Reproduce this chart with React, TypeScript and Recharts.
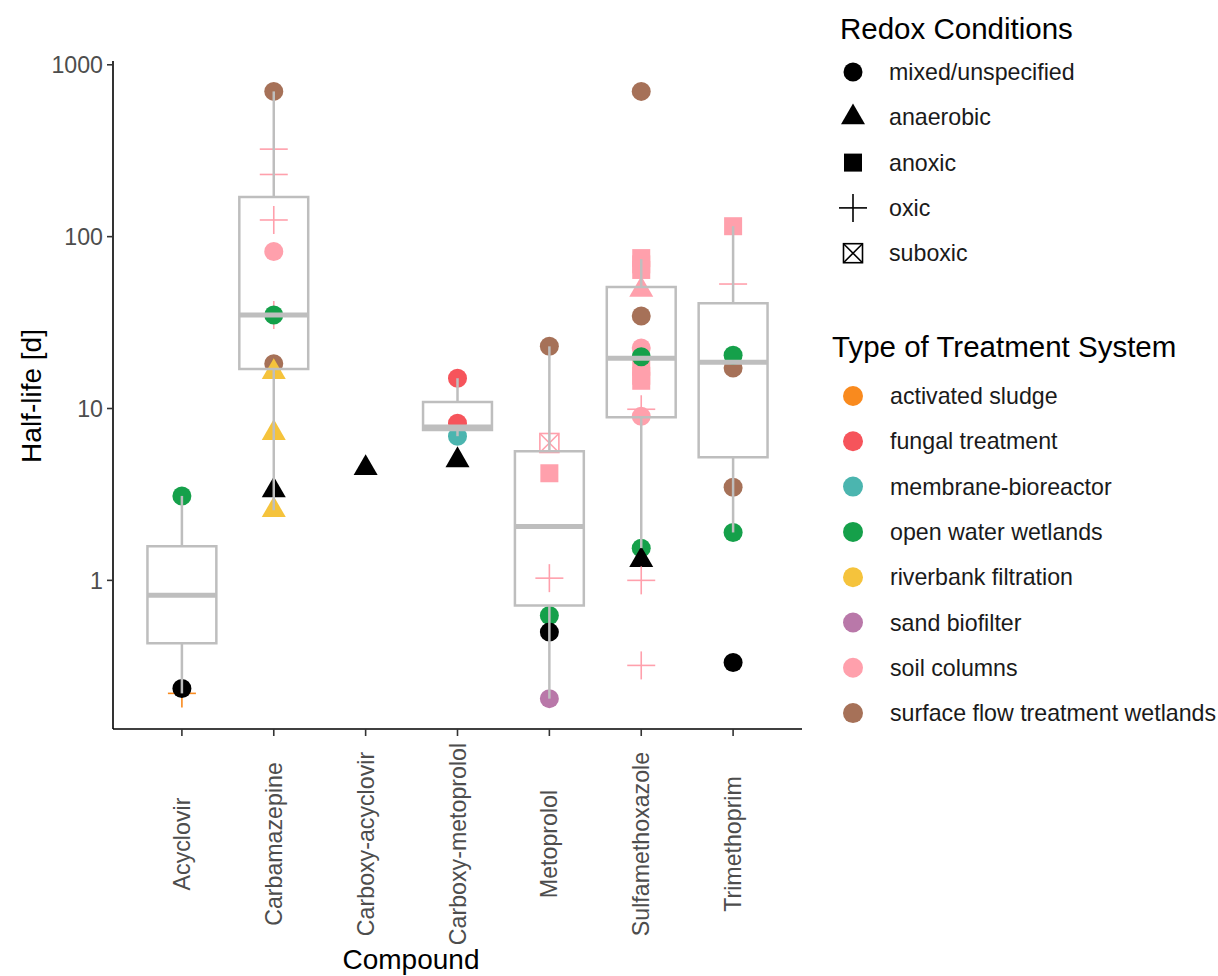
import {
  ComposedChart, Scatter, XAxis, YAxis, ReferenceArea, ReferenceLine,
} from "recharts";

// compounds on the x axis (index 1..7)
const COMPOUNDS = [
  "Acyclovir", "Carbamazepine", "Carboxy-acyclovir", "Carboxy-metoprolol",
  "Metoprolol", "Sulfamethoxazole", "Trimethoprim",
];

// box statistics per compound (null = no box drawn)
const Q1         = [0.43, 17,  null, 7.5,  0.715, 8.9, 5.2];
const MEDIAN     = [0.82, 35,  null, 7.8,  2.06,  19.6, 18.6];
const Q3         = [1.58, 170, null, 10.9, 5.64,  51,  41];
const WHISKER_LO = [0.22, 2.56, null, 6.9, 0.205, 1.54, 1.9];
const WHISKER_HI = [3.1, 700, null, 15,   23,    74,  115];

const Y_TICKS = [1, 10, 100, 1000];

const REDOX = ["mixed/unspecified", "anaerobic", "anoxic", "oxic", "suboxic"];
const SYSTEMS = [
  "activated sludge", "fungal treatment", "membrane-bioreactor", "open water wetlands",
  "riverbank filtration", "sand biofilter", "soil columns", "surface flow treatment wetlands",
];
const SYSTEM_COLORS = [
  "#F98A1E", "#F6545B", "#4BB5AF", "#15A04A", "#F5C33C", "#B978A9", "#FFA0AC", "#A67158",
];

// points: compound index, half-life [d], redox index, system index (-1 = unspecified, black)
const PT_COMPOUND = [
  1, 1, 1,
  2, 2, 2, 2, 2, 2, 2, 2, 2, 2, 2, 2,
  3,
  4, 4, 4, 4,
  5, 5, 5, 5, 5, 5, 5,
  6, 6, 6, 6, 6, 6, 6, 6, 6, 6, 6, 6, 6, 6, 6, 6, 6,
  7, 7, 7, 7, 7, 7, 7,
];
const PT_VALUE = [
  3.1, 0.22, 0.235,
  700, 323, 230, 125, 82, 35, 35, 18.2, 16.3, 7.2, 2.56, 3.34,
  4.5,
  15, 8.2, 6.9, 5.0,
  23, 6.3, 4.2, 1.03, 0.625, 0.5, 0.205,
  700, 75, 69, 64, 49, 34.5, 22.5, 17.5, 15.5, 14.5, 20, 9.9, 9.0, 1.54, 1.31, 1.0, 0.32,
  115, 53, 17.2, 20.4, 3.48, 1.9, 0.333,
];
const PT_REDOX = [
  0, 3, 0,
  0, 3, 3, 3, 0, 3, 0, 0, 1, 1, 1, 1,
  1,
  0, 0, 0, 1,
  0, 4, 2, 3, 0, 0, 0,
  0, 2, 2, 2, 1, 0, 0, 2, 2, 2, 0, 3, 0, 0, 1, 3, 3,
  2, 3, 0, 0, 0, 0, 0,
];
const PT_SYSTEM = [
  3, 0, -1,
  7, 6, 6, 6, 6, 6, 3, 7, 4, 4, 4, -1,
  -1,
  1, 1, 2, -1,
  7, 6, 6, 6, 3, -1, 5,
  7, 6, 6, 6, 6, 7, 6, 6, 6, 6, 3, 6, 6, 3, -1, 6, 6,
  6, 6, 7, 3, 7, 3, -1,
];

const points = PT_VALUE.map((v, i) => ({
  x: PT_COMPOUND[i], y: v, redox: PT_REDOX[i], system: PT_SYSTEM[i],
}));

const FONT = "Liberation Sans, Arial, Helvetica, sans-serif";
const BOX_COLOR = "#BEBEBE";
const TITLE_SIZE = 29.5;
const TEXT_SIZE = 23.2;

function Marker({ redox, color, cx, cy }: { redox: number; color: string; cx: number; cy: number }) {
  if (redox === 1) {
    const s = 12;
    return (
      <polygon
        points={`${cx},${cy - 13.9} ${cx - s},${cy + 6.9} ${cx + s},${cy + 6.9}`}
        fill={color}
      />
    );
  }
  if (redox === 2) {
    return <rect x={cx - 9} y={cy - 9} width={18} height={18} fill={color} />;
  }
  if (redox === 3) {
    return (
      <g stroke={color} strokeWidth={1.6}>
        <line x1={cx - 14} y1={cy} x2={cx + 14} y2={cy} />
        <line x1={cx} y1={cy - 14} x2={cx} y2={cy + 14} />
      </g>
    );
  }
  if (redox === 4) {
    return (
      <g stroke={color} strokeWidth={1.6} fill="none">
        <rect x={cx - 9.5} y={cy - 9.5} width={19} height={19} />
        <line x1={cx - 9.5} y1={cy - 9.5} x2={cx + 9.5} y2={cy + 9.5} />
        <line x1={cx - 9.5} y1={cy + 9.5} x2={cx + 9.5} y2={cy - 9.5} />
      </g>
    );
  }
  return <circle cx={cx} cy={cy} r={9.5} fill={color} />;
}

function PointShape(props: any) {
  const { cx, cy, payload } = props;
  if (cx == null || cy == null) return null;
  const color = payload.system < 0 ? "#000000" : SYSTEM_COLORS[payload.system];
  return <Marker redox={payload.redox} color={color} cx={cx} cy={cy} />;
}

function CompoundTick(props: any) {
  const { x, y, payload } = props;
  const cy = y + 106;
  return (
    <text
      x={x}
      y={cy}
      transform={`rotate(-90, ${x}, ${cy})`}
      textAnchor="middle"
      dominantBaseline="central"
      fill="#4D4D4D"
      fontSize={TEXT_SIZE}
      fontFamily={FONT}
    >
      {COMPOUNDS[payload.value - 1]}
    </text>
  );
}

function Legends() {
  return (
    <svg
      width={1218}
      height={976}
      style={{ position: "absolute", left: 0, top: 0, pointerEvents: "none" }}
      fontFamily={FONT}
    >
      <text x={31} y={396} transform="rotate(-90, 31, 396)" textAnchor="middle"
        dominantBaseline="central" fontSize={28} fill="#000">
        Half-life [d]
      </text>
      <text x={411} y={969} textAnchor="middle" fontSize={28} fill="#000">Compound</text>

      <text x={840} y={39} fontSize={TITLE_SIZE} fill="#000">Redox Conditions</text>
      {REDOX.map((r, i) => (
        <g key={r}>
          <Marker redox={i} color="#000" cx={853} cy={72 + i * 45.3} />
          <text x={889} y={72 + i * 45.3} dominantBaseline="central" fontSize={TEXT_SIZE} fill="#1A1A1A">{r}</text>
        </g>
      ))}

      <text x={832} y={357} fontSize={TITLE_SIZE} fill="#000">Type of Treatment System</text>
      {SYSTEMS.map((s, i) => (
        <g key={s}>
          <circle cx={853} cy={396 + i * 45.3} r={10} fill={SYSTEM_COLORS[i]} />
          <text x={890} y={396 + i * 45.3} dominantBaseline="central" fontSize={TEXT_SIZE} fill="#1A1A1A">{s}</text>
        </g>
      ))}
    </svg>
  );
}

export default function App() {
  const half = 0.375;
  return (
    <div style={{ position: "absolute", left: 0, top: 0, width: 1218, height: 976, background: "#fff" }}>
      <ComposedChart
        width={820}
        height={976}
        margin={{ top: 61, right: 18, bottom: 0, left: 0 }}
      >
        <XAxis
          type="number"
          dataKey="x"
          domain={[0.25, 7.75]}
          ticks={[1, 2, 3, 4, 5, 6, 7]}
          allowDataOverflow
          height={247}
          tickSize={7}
          tick={<CompoundTick />}
          axisLine={{ stroke: "#000", strokeWidth: 1.6 }}
          tickLine={{ stroke: "#333", strokeWidth: 1.6 }}
        />
        <YAxis
          type="number"
          dataKey="y"
          scale="log"
          domain={[0.1365, 1052]}
          allowDataOverflow
          ticks={Y_TICKS}
          width={113}
          tickSize={6}
          tickMargin={4}
          tick={{ fill: "#4D4D4D", fontSize: TEXT_SIZE, fontFamily: FONT }}
          axisLine={{ stroke: "#000", strokeWidth: 1.6 }}
          tickLine={{ stroke: "#333", strokeWidth: 1.6 }}
        />
        <Scatter
          data={points}
          dataKey="y"
          shape={<PointShape />}
          isAnimationActive={false}
        />
        {COMPOUNDS.map((c, i) =>
          Q1[i] == null ? null : (
            <ReferenceLine
              key={`wl-${c}`}
              segment={[{ x: i + 1, y: WHISKER_LO[i] }, { x: i + 1, y: Q1[i] }]}
              stroke={BOX_COLOR}
              strokeWidth={2.5}
              zIndex={650}
            />
          ))}
        {COMPOUNDS.map((c, i) =>
          Q1[i] == null ? null : (
            <ReferenceLine
              key={`wh-${c}`}
              segment={[{ x: i + 1, y: Q3[i] }, { x: i + 1, y: WHISKER_HI[i] }]}
              stroke={BOX_COLOR}
              strokeWidth={2.5}
              zIndex={650}
            />
          ))}
        {COMPOUNDS.map((c, i) =>
          Q1[i] == null ? null : (
            <ReferenceArea
              key={`box-${c}`}
              x1={i + 1 - half}
              x2={i + 1 + half}
              y1={Q1[i]}
              y2={Q3[i]}
              fill="none"
              fillOpacity={0}
              stroke={BOX_COLOR}
              strokeWidth={2.5}
              strokeOpacity={1}
              zIndex={650}
            />
          ))}
        {COMPOUNDS.map((c, i) =>
          Q1[i] == null ? null : (
            <ReferenceLine
              key={`med-${c}`}
              segment={[{ x: i + 1 - half, y: MEDIAN[i] }, { x: i + 1 + half, y: MEDIAN[i] }]}
              stroke={BOX_COLOR}
              strokeWidth={5}
              zIndex={650}
            />
          ))}
      </ComposedChart>
      <Legends />
    </div>
  );
}
